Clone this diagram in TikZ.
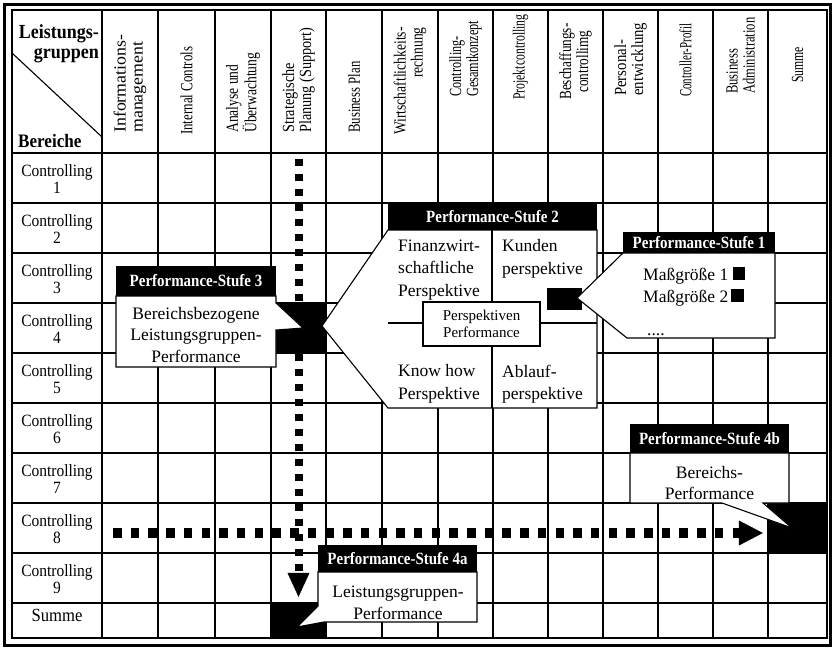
\documentclass[tikz,border=0pt]{standalone}
\usepackage{fontspec}
\setmainfont{Liberation Serif}
\newfontfamily\rowfont{Liberation Serif}[FakeStretch=0.9]
\newfontfamily\barfont{Liberation Serif}[FakeStretch=0.87]
\usetikzlibrary{arrows.meta}

\begin{document}
\begin{tikzpicture}[x=1pt,y=-1pt,
  grid/.style={line width=1.1pt},
  rowlab/.style={font=\rowfont\fontsize{17.2}{17.5}\selectfont,align=center,inner sep=0pt},
  colhead/.style={rotate=90,anchor=west,align=left,inner sep=0pt,
    font=\fontsize{17}{17}\selectfont\addfontfeatures{FakeStretch=#1}},
  colhead/.default=0.8,
  hdbar/.style={fill=black,text=white,inner sep=0pt,font=\barfont\fontsize{17.2}{17}\selectfont\bfseries},
  callout/.style={draw,fill=white,line width=1.1pt},
  body/.style={inner sep=0pt,font=\fontsize{17.5}{21.5}\selectfont},
  blk/.style={fill=black,inner sep=0pt},
  vflow/.style={line width=8pt,dash pattern=on 7pt off 8pt,-{Triangle[length=24pt,width=22pt,line width=0.4pt]}},
  hflow/.style={line width=10pt,dash pattern=on 8.5pt off 9.2pt,-{Triangle[length=24pt,width=25pt,line width=0.4pt]}}]
\useasboundingbox (0,0) rectangle (835,648);
% frame and grid
\draw[line width=3pt] (4.5,4.5) rectangle (830.5,645);
\draw[line width=1.4pt] (12,10) rectangle (827,638);
\foreach \x in {102,158,215,271,326,382,438,493,548,603,658,713,768}
  \draw[grid] (\x,10) -- (\x,638);
\foreach \y in {153,203,...,603}
  \draw[grid] (12,\y) -- (827,\y);
\draw[grid] (12,53) -- (102,137);
% corner labels
\node[anchor=east,align=right,inner sep=0pt,font=\rowfont\fontsize{20}{20}\selectfont\bfseries] (lg) at (99,44) {Leistungs-\\gruppen};
\node[anchor=base west,inner sep=0pt,font=\rowfont\fontsize{19}{20}\selectfont\bfseries] (br) at (18,147) {Bereiche};
% column heads
\node[colhead=1.05] (h1) at (130,133) {Informations-\\management};
\node[colhead=0.76] (h2) at (186.5,135) {Internal Controls};
\node[colhead=0.8] (h3) at (243,133) {Analyse und\\Überwachtung};
\node[colhead=0.84] (h4) at (298.5,133) {Strategische\\Planung (Support)};
\node[colhead=0.75] (h5) at (354,133) {Business Plan};
\node[colhead=0.8,align=right] (h6) at (410,135) {Wirtschaftlichkeits-\\rechnung};
\node[colhead=0.72] (h7) at (465.5,97) {Controlling-\\Gesamtkonzept};
\node[colhead=0.69] (h8) at (520.5,100) {Projektcontrolling};
\node[colhead=0.78,align=center] (h9) at (575.5,100) {Beschaffungs-\\controllimg};
\node[colhead=0.87] (h10) at (630.5,96) {Personal-\\entwicklung};
\node[colhead=0.64] (h11) at (685.5,97) {Controller-Profil};
\node[colhead=0.74] (h12) at (740.5,94) {Business\\Administration};
\node[colhead=0.69] (h13) at (797.5,83) {Summe};
% row labels
\foreach \r in {1,...,9}
  \node[rowlab] (c\r) at (57,{129+50*\r}) {Controlling\\\r};
\node[rowlab,anchor=base,font=\rowfont\fontsize{18.5}{20}\selectfont] (csum) at (57,621) {Summe};
% target cells and flows
\node[blk,minimum width=55pt,minimum height=35pt] (blkB) at (298.5,620.5) {};
\node[blk,minimum width=59pt,minimum height=50pt] (blkC) at (797.5,528) {};
\coordinate (vtop) at (298.5,159);
\coordinate (hleft) at (113,533);
\draw[vflow,shorten >=6pt] (vtop) -- (blkB.north);
\draw[hflow,shorten >=5pt] (hleft) -- (hleft -| blkC.west);
\node[blk,minimum width=55pt,minimum height=50pt] (blkA) at (298.5,328) {};
% Performance-Stufe 3
\draw[callout] (116,296) -- (276,296) -- (276,303) -- (303,328) -- (276,330) -- (276,367) -- (116,367) -- cycle;
\node[hdbar,minimum width=160pt,minimum height=30pt] (ps3) at (196,281) {Performance-Stufe 3};
\node[body,align=center] (ps3t) at (196,335) {Bereichsbezogene\\Leistungsgruppen-\\Performance};
% Performance-Stufe 2
\draw[callout] (388,230) -- (597,230) -- (597,408) -- (388,408) -- (322,326) -- cycle;
\draw[line width=1.1pt] (492,230) -- (492,408) (388,323) -- (597,323);
\node[hdbar,minimum width=209pt,minimum height=27pt] (ps2) at (492.5,216.5) {Performance-Stufe 2};
\node[body,anchor=west,align=left,font=\fontsize{17.5}{22.5}\selectfont] (fin) at (398,270) {Finanzwirt-\\schaftliche\\Perspektive};
\node[body,anchor=west,align=left,font=\fontsize{17.5}{22.5}\selectfont] (kun) at (502,259) {Kunden\\perspektive};
\node[body,anchor=west,align=left,font=\fontsize{17.5}{22.5}\selectfont] (know) at (398,384) {Know how\\Perspektive};
\node[body,anchor=west,align=left,font=\fontsize{17.5}{22.5}\selectfont] (abl) at (502,384) {Ablauf-\\perspektive};
\node[draw,fill=white,line width=1.1pt,minimum width=117pt,minimum height=44pt,align=center,inner sep=0pt,font=\fontsize{15}{17}\selectfont] (pp) at (481.5,324) {Perspektiven\\Performance};
\node[blk,minimum width=35pt,minimum height=22pt] (blkK) at (564.5,299) {};
% Performance-Stufe 1
\draw[callout] (623,253) -- (775,253) -- (775,338) -- (627,338) -- (577,298) -- cycle;
\node[hdbar,minimum width=152pt,minimum height=21pt] (ps1) at (699,242.5) {Performance-Stufe 1};
\node[body,anchor=base west] (m1) at (643,280) {Maßgröße 1 \rule{12pt}{13pt}};
\node[body,anchor=base west] (m2) at (643,302) {Maßgröße 2\hspace{3pt}\rule{13pt}{13pt}};
\node[body,anchor=base west] (m3) at (647,335) {....};
% Performance-Stufe 4b
\draw[callout] (630,453) -- (789,453) -- (789,503) -- (763,503) -- (792,528) -- (722,503) -- (630,503) -- cycle;
\node[hdbar,minimum width=159pt,minimum height=29pt] (ps4b) at (709.5,438.5) {Performance-Stufe 4b};
\node[body,align=center] (bp) at (709.5,483) {Bereichs-\\Performance};
% Performance-Stufe 4a
\draw[callout] (318,572) -- (477,572) -- (477,622) -- (324,622) -- (297,627) -- (318,606) -- cycle;
\node[hdbar,minimum width=159pt,minimum height=27pt] (ps4a) at (397.5,558.5) {Performance-Stufe 4a};
\node[body,align=center] (lp) at (398,603) {Leistungsgruppen-\\Performance};
\end{tikzpicture}
\end{document}
